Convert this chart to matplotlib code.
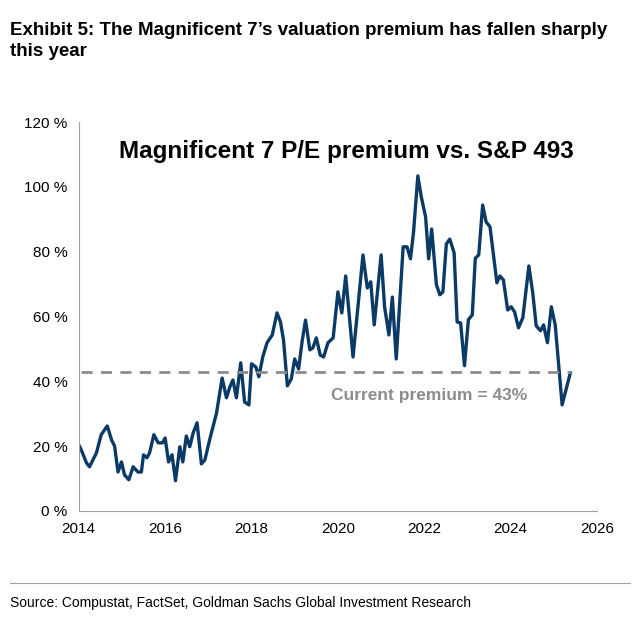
import matplotlib.pyplot as plt
from matplotlib.lines import Line2D
from matplotlib.ticker import FuncFormatter

years = [2014.0, 2014.06, 2014.18, 2014.25, 2014.41, 2014.52, 2014.66, 2014.76, 2014.83, 2014.91,
         2014.99, 2015.06, 2015.16, 2015.26, 2015.37, 2015.45, 2015.50, 2015.58, 2015.64, 2015.74,
         2015.84, 2015.94, 2016.0, 2016.08, 2016.16, 2016.24, 2016.34, 2016.41, 2016.49, 2016.57,
         2016.65, 2016.74, 2016.84, 2016.92, 2017.03, 2017.19, 2017.32, 2017.42, 2017.50, 2017.57,
         2017.65, 2017.75, 2017.84, 2017.94, 2018.0, 2018.10, 2018.17, 2018.26, 2018.36, 2018.48,
         2018.59, 2018.67, 2018.74, 2018.83, 2018.92, 2019.0, 2019.09, 2019.17, 2019.25, 2019.35,
         2019.42, 2019.50, 2019.59, 2019.67, 2019.77, 2019.89, 2020.0, 2020.09, 2020.18, 2020.35,
         2020.58, 2020.68, 2020.76, 2020.84, 2021.0, 2021.08, 2021.18, 2021.26, 2021.35, 2021.51,
         2021.60, 2021.68, 2021.75, 2021.85, 2021.93, 2022.03, 2022.10, 2022.17, 2022.28, 2022.36,
         2022.43, 2022.51, 2022.59, 2022.69, 2022.76, 2022.84, 2022.93, 2023.02, 2023.11, 2023.18,
         2023.26, 2023.35, 2023.43, 2023.52, 2023.68, 2023.75, 2023.83, 2023.93, 2024.01, 2024.09,
         2024.18, 2024.28, 2024.42, 2024.51, 2024.59, 2024.69, 2024.76, 2024.85, 2024.94, 2025.03,
         2025.19, 2025.38]
premium = [20.4, 18.8, 14.8, 13.6, 17.9, 23.5, 26.2, 21.9, 20.0, 12.0,
           15.1, 11.1, 9.6, 13.6, 12.0, 12.0, 17.3, 16.4, 17.9, 23.5,
           21.0, 21.0, 22.5, 15.1, 17.3, 9.3, 19.8, 15.1, 23.1, 19.8,
           24.1, 27.2, 14.5, 15.7, 21.9, 30.2, 41.0, 34.9, 38.3, 40.4,
           34.9, 45.7, 33.6, 32.7, 45.4, 44.4, 41.4, 47.5, 51.9, 54.3,
           61.1, 58.3, 52.8, 38.6, 40.7, 46.9, 43.8, 52.2, 58.9, 49.7,
           50.3, 53.4, 48.1, 47.5, 51.9, 53.4, 67.6, 61.1, 72.5, 47.5,
           79.0, 68.8, 70.7, 57.4, 79.0, 63.0, 54.3, 66.0, 46.9, 81.5,
           81.5, 77.8, 86.0, 103.4, 96.9, 90.7, 77.8, 87.0, 69.8, 66.7,
           67.6, 82.4, 83.9, 79.6, 58.3, 58.0, 44.8, 59.0, 60.5, 78.0,
           79.0, 94.4, 89.2, 87.7, 70.4, 72.5, 71.3, 62.0, 63.0, 61.4,
           56.5, 59.6, 75.6, 67.3, 57.1, 55.6, 57.4, 51.9, 63.0, 57.4,
           32.7, 42.6]
current_premium = 43
x_ticks = [2014, 2016, 2018, 2020, 2022, 2024, 2026]
y_ticks = [0, 20, 40, 60, 80, 100, 120]

plt.rcParams["font.family"] = "Liberation Sans"

fig = plt.figure(figsize=(6.4, 6.23), dpi=100)
ax = fig.add_axes([0.123, 0.18, 0.81, 0.624])

ax.plot(years, premium, color="#0b3a66", linewidth=2.4)
ax.plot([2014.05, 2025.4], [current_premium, current_premium],
        color="#8c8c8c", linewidth=2, linestyle=(0, (4, 3)))
ax.text(2022.1, 35.5, f"Current premium = {current_premium}%", color="#8c8c8c",
        fontsize=12.5, fontweight="bold", ha="center", va="center")
ax.text(2020.2, 111, "Magnificent 7 P/E premium vs. S&P 493",
        fontsize=17.5, fontweight="bold", ha="center", va="center")

ax.set_xlim(2014, 2026)
ax.set_ylim(0, 120)
ax.set_xticks(x_ticks)
ax.set_yticks(y_ticks)
ax.yaxis.set_major_formatter(FuncFormatter(lambda v, p: f"{v:.0f} %"))
ax.tick_params(labelsize=11, length=0, pad=8)
for s in ["top", "right"]:
    ax.spines[s].set_visible(False)
for s in ["left", "bottom"]:
    ax.spines[s].set_color("#a0a0a0")

fig.text(0.016, 0.965, "Exhibit 5: The Magnificent 7\u2019s valuation premium has fallen sharply\nthis year",
         fontsize=13.5, fontweight="bold", va="top", linespacing=1.3)
fig.add_artist(Line2D([0.016, 0.984], [0.064, 0.064], color="#a0a0a0", linewidth=0.8))
fig.text(0.016, 0.032, "Source: Compustat, FactSet, Goldman Sachs Global Investment Research",
         fontsize=10, va="center")

fig.savefig("out.png", dpi=100)
